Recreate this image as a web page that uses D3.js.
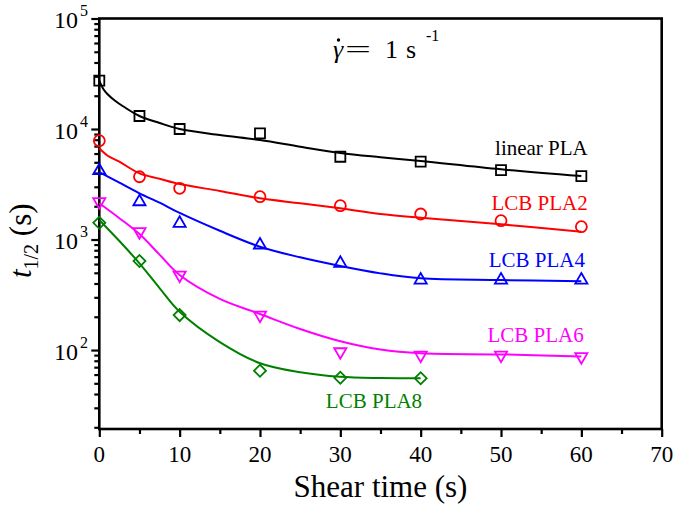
<!DOCTYPE html>
<html>
<head>
<meta charset="utf-8">
<script src="https://cdn.jsdelivr.net/npm/d3@7"></script>
<style>
  html, body { margin: 0; padding: 0; background: #fff; }
</style>
</head>
<body>
<svg id="chart" width="675" height="508" font-family="'Liberation Serif', 'Times New Roman', Times, serif"></svg>
<script>
// ---------- data ----------
const seriesNames = ["linear PLA", "LCB PLA2", "LCB PLA4", "LCB PLA6", "LCB PLA8"];
const seriesColors = ["#000000", "#ff0000", "#0000ff", "#ff00ff", "#008000"];

// measured points (shear time in s, t1/2 in s)
const timesMeasured = [0, 5, 10, 20, 30, 40, 50, 60];
const linearPLA = [27350, 13110, 10000, 9140, 5610, 5060, 4255, 3755];
const lcbPLA2 = [7840, 3700, 2905, 2440, 2023, 1702, 1480, 1306];
const lcbPLA4 = [4195, 2198, 1402, 892, 609, 430, 430, 430];
const lcbPLA6 = [2198, 1177, 477, 207, 96.5, 90, 90, 87];
const timesPLA8 = [0, 5, 10, 20, 30, 40];
const lcbPLA8 = [1419, 639, 207, 65, 56.1, 55.5];

// fitted curves
const fitTimesLinear = [0, 0.5, 1, 2, 3, 5, 7.5, 10, 15, 20, 25, 30, 35, 40, 50, 60];
const fitLinear = [27350, 23000, 20740, 17920, 15980, 13110, 11330, 10000, 8830, 7955, 6920, 6065, 5550, 5130, 4317, 3755];
const fitTimesPLA2 = [0, 1, 2.5, 5, 7.5, 10, 15, 20, 25, 30, 35, 40, 50, 60];
const fitPLA2 = [6690, 5760, 5060, 3970, 3550, 3180, 2750, 2360, 2128, 1915, 1700, 1575, 1373, 1177];
const fitTimes = [0, 2.5, 5, 7.5, 10, 15, 20, 25, 30, 35, 40, 50, 60];
const fitPLA4 = [4080, 3266, 2620, 2153, 1740, 1200, 861, 690, 576, 494, 446, 430, 419];
const fitPLA6 = [2130, 1560, 1120, 730, 477, 290, 212, 155, 120, 101, 93.3, 91.3, 87.6];
const fitTimesPLA8 = [0, 2.5, 5, 7.5, 10, 15, 20, 25, 30, 35, 40];
const fitPLA8 = [1503, 969, 609, 364, 222, 118, 76, 63, 57.3, 55.8, 55.5];

// series label anchors in data space [time, value]
const labelTimes = [60.8, 60.8, 60.45, 60.3, 28.2];
const labelValues = [5820, 1849, 564, 118, 29.9];
const labelAnchors = ["end", "end", "end", "end", "start"];

// ticks
const xMajorTicks = [0, 10, 20, 30, 40, 50, 60, 70];
const xMinorTicks = [5, 15, 25, 35, 45, 55, 65];
const yMajorExponents = [2, 3, 4, 5];

// ---------- layout ----------
const svg = d3.select("#chart");
const mLeft = 99.3, mRight = 661.7, mTop = 18.5, mBottom = 429;

const x = d3.scaleLinear().domain([0, 70]).range([mLeft, mRight]);
const y = d3.scaleLog().domain([19.3, 1e5]).range([mBottom, mTop]);

const yMajor = yMajorExponents.map(e => Math.pow(10, e));
const yMinor = [];
[1, 2, 3, 4].forEach(e => {
  for (let m = 2; m <= 9; m++) {
    const v = m * Math.pow(10, e);
    if (v >= 19.3 && v <= 1e5) yMinor.push(v);
  }
});

// axes ticks
const axisStyle = g => {
  g.select(".domain").remove();
  g.selectAll(".tick line").attr("stroke", "#000").attr("stroke-width", 2.2);
  g.selectAll(".tick text").remove();
};
svg.append("g").attr("transform", `translate(${mLeft},0)`)
  .call(d3.axisLeft(y).tickValues(yMinor).tickSize(5).tickFormat(""))
  .call(axisStyle);
svg.append("g").attr("transform", `translate(${mLeft},0)`)
  .call(d3.axisLeft(y).tickValues(yMajor).tickSize(8).tickFormat(""))
  .call(axisStyle);
svg.append("g").attr("transform", `translate(0,${mBottom})`)
  .call(d3.axisBottom(x).tickValues(xMinorTicks).tickSize(5).tickFormat(""))
  .call(axisStyle);
svg.append("g").attr("transform", `translate(0,${mBottom})`)
  .call(d3.axisBottom(x).tickValues(xMajorTicks).tickSize(8).tickFormat(""))
  .call(axisStyle);

// frame
svg.append("rect")
  .attr("x", mLeft).attr("y", mTop)
  .attr("width", mRight - mLeft).attr("height", mBottom - mTop)
  .attr("fill", "none").attr("stroke", "#000").attr("stroke-width", 2.6);

// x tick labels
svg.append("g").selectAll("text").data(xMajorTicks).join("text")
  .attr("x", d => x(d)).attr("y", mBottom + 33)
  .attr("text-anchor", "middle").attr("font-size", 23).attr("fill", "#000")
  .text(d => d);

// y tick labels (10^n)
const yl = svg.append("g").selectAll("text").data(yMajorExponents).join("text")
  .attr("x", 88).attr("y", d => y(Math.pow(10, d)) + 9.5)
  .attr("text-anchor", "end").attr("font-size", 24).attr("fill", "#000");
yl.append("tspan").text("10");
yl.append("tspan").attr("font-size", 16).attr("dy", -12).attr("dx", 2).text(d => d);

// axis titles
svg.append("text")
  .attr("x", (mLeft + mRight) / 2).attr("y", 497)
  .attr("text-anchor", "middle").attr("font-size", 31).attr("fill", "#000")
  .text("Shear time (s)");

const yt = svg.append("text")
  .attr("transform", `translate(31,${(mTop + mBottom) / 2 + 17}) rotate(-90)`)
  .attr("text-anchor", "middle").attr("font-size", 31).attr("fill", "#000");
yt.append("tspan").attr("font-style", "italic").text("t");
yt.append("tspan").attr("font-size", 20).attr("dy", 7).text("1/2");
yt.append("tspan").attr("dy", -7).text(" (s)");

// title: gamma-dot = 1 s^-1
const title = svg.append("text").attr("y", 58).attr("font-size", 26).attr("fill", "#000");
title.append("tspan").attr("x", 333).attr("font-style", "italic").text("\u03B3");
title.append("tspan").attr("x", 345)
  .attr("textLength", 26).attr("lengthAdjust", "spacingAndGlyphs").text("=");
title.append("tspan").attr("x", 385).text("1");
title.append("tspan").attr("x", 406).text("s");
title.append("tspan").attr("x", 426).attr("y", 41).attr("font-size", 16).text("-1");
// the time-derivative dot above gamma
svg.append("circle").attr("cx", 338.5).attr("cy", 40).attr("r", 1.7).attr("fill", "#000");

// ---------- curves ----------
const line = d3.line().x(d => x(d[0])).y(d => y(d[1])).curve(d3.curveCatmullRom.alpha(0.5));
const fits = [
  [fitTimesLinear, fitLinear],
  [fitTimesPLA2, fitPLA2],
  [fitTimes, fitPLA4],
  [fitTimes, fitPLA6],
  [fitTimesPLA8, fitPLA8]
];
fits.forEach((f, i) => {
  svg.append("path")
    .datum(f[0].map((t, k) => [t, f[1][k]]))
    .attr("d", line)
    .attr("fill", "none").attr("stroke", seriesColors[i]).attr("stroke-width", 2);
});

// ---------- markers ----------
const measured = [
  [timesMeasured, linearPLA],
  [timesMeasured, lcbPLA2],
  [timesMeasured, lcbPLA4],
  [timesMeasured, lcbPLA6],
  [timesPLA8, lcbPLA8]
];
const symbols = [
  { type: d3.symbolSquare, size: 100, rot: 0 },
  { type: d3.symbolCircle, size: 95, rot: 0 },
  { type: d3.symbolTriangle, size: 64, rot: 0 },
  { type: d3.symbolTriangle, size: 64, rot: 180 },
  { type: d3.symbolSquare, size: 72, rot: 45 }
];
measured.forEach((m, i) => {
  const sym = d3.symbol().type(symbols[i].type).size(symbols[i].size);
  svg.append("g").selectAll("path").data(m[0].map((t, k) => [t, m[1][k]])).join("path")
    .attr("d", sym)
    .attr("transform", d => `translate(${x(d[0])},${y(d[1])}) rotate(${symbols[i].rot})`)
    .attr("fill", "none").attr("stroke", seriesColors[i]).attr("stroke-width", 1.8);
});

// ---------- series labels ----------
svg.append("g").selectAll("text").data(seriesNames).join("text")
  .attr("x", (d, i) => x(labelTimes[i])).attr("y", (d, i) => y(labelValues[i]))
  .attr("text-anchor", (d, i) => labelAnchors[i])
  .attr("font-size", 21).attr("fill", (d, i) => seriesColors[i])
  .text(d => d);
</script>
</body>
</html>
